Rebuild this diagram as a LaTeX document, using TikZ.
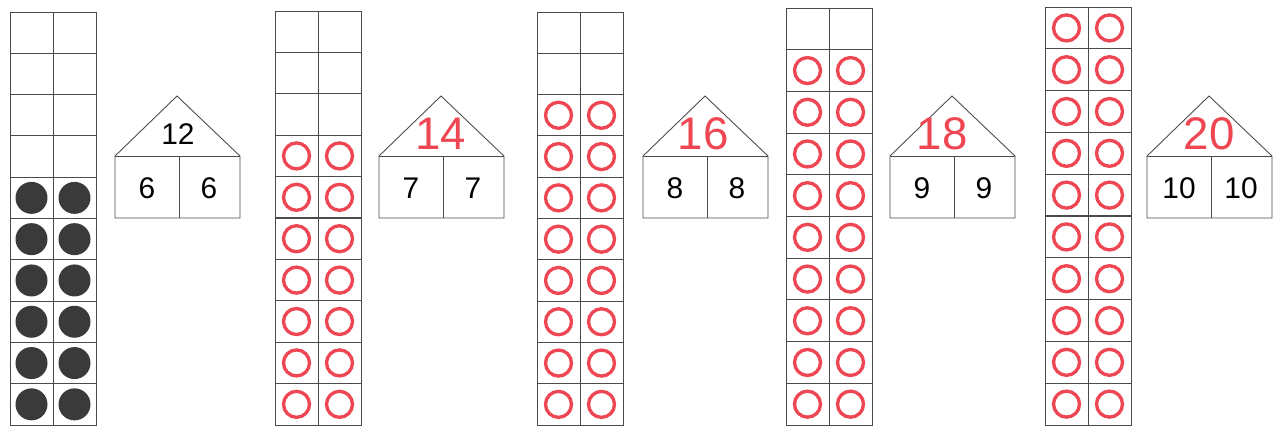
\documentclass[tikz,border=0pt]{standalone}
\usepackage{fontspec}
\setmainfont{Liberation Sans}
\usetikzlibrary{positioning}
\definecolor{penred}{RGB}{238,70,82}
\definecolor{dotgray}{RGB}{58,58,58}
\definecolor{linegray}{RGB}{75,75,75}

\begin{document}
\begin{tikzpicture}[x=0.02cm,y=-0.02cm,
      g/.style={draw=linegray,line width=.5pt},
      gm/.style={draw=linegray,line width=1pt},
      d/.style={fill=dotgray},
      r/.style={draw=penred,line width=1.9pt},
      n/.style={font=\fontsize{17}{19}\selectfont,inner sep=0pt},
      h/.style={font=\fontsize{26}{29}\selectfont,text=penred,inner sep=0pt}]
  \useasboundingbox (0,0) rectangle (1280,427);
  \foreach \i/\gx/\gt/\k/\hx/\tot/\half/\cs/\ts/\tx in
      {1/10/12/6/115/12/6/d/n/63, 2/275/11/7/379/14/7/r/h/62,
       3/537/12/8/643/16/8/r/h/60, 4/786/8/9/890/18/9/r/h/52,
       5/1045/7/10/1147/20/10/r/h/62}{
    \pgfmathsetmacro{\rh}{(425-\gt)/10}
    \draw[g] (\gx,\gt) rectangle ({\gx+86},425);
    \draw[g] ({\gx+43},\gt) -- ({\gx+43},425);
    \foreach \j in {1,...,9}
      \draw[g] (\gx,{\gt+\j*\rh}) -- ({\gx+86},{\gt+\j*\rh});
    \draw[gm] (\gx,{\gt+5*\rh}) -- ({\gx+86},{\gt+5*\rh});
    \foreach \j in {1,...,\k}{
      \path[\cs] ({\gx+21.5},{425-(\j-.5)*\rh}) circle ({\ifnum\i=1 16\else 13\fi});
      \path[\cs] ({\gx+64.5},{425-(\j-.5)*\rh}) circle ({\ifnum\i=1 16\else 13\fi});
    }
    \coordinate (bl\i) at (\hx,218);
    \coordinate (wl\i) at (\hx,156);
    \coordinate (top\i) at ({\hx+62},96);
    \coordinate (wr\i) at ({\hx+125},156);
    \coordinate (br\i) at ({\hx+125},218);
    \coordinate (mt\i) at ({\hx+64},156);
    \coordinate (mb\i) at ({\hx+64},218);
    \draw[g] (bl\i) -- (wl\i) -- (top\i) -- (wr\i) -- (br\i) -- cycle;
    \draw[g] (wl\i) -- (wr\i);
    \draw[g] (mt\i) -- (mb\i);
    \node[\ts] (sum\i) at ({\hx+\tx},134) {\tot};
    \node[n] (left\i) at ({\hx+32},188) {\half};
    \node[n] (right\i) at ({\hx+94},188) {\half};
  }
\end{tikzpicture}
\end{document}
